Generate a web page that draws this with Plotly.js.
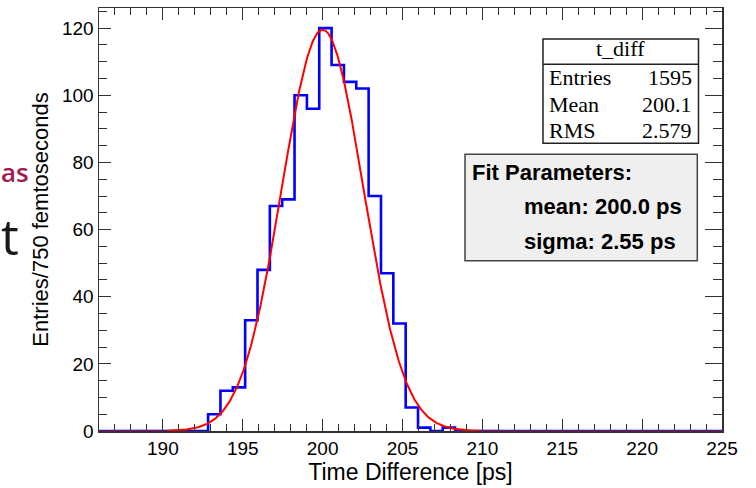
<!DOCTYPE html>
<html><head><meta charset="utf-8">
<script src="https://cdn.plot.ly/plotly-3.0.1.min.js"></script>
<style>html,body{margin:0;padding:0;background:#fff}#chart{width:756px;height:488px}</style>
</head><body><div id="chart"></div>
<script>
// ---- data ----
const histName = 't_diff';
const firstBinEdge = 192.83;          // lower edge of first non-empty bin (ps)
const binWidth = 0.773;               // bin width (ps)
const binCounts = [5,12,13,33,48,67,69,100,96,120,109,104,102,70,47,32,7,1,0,1];
const statLabels = ['Entries','Mean','RMS'];
const statValues = ['1595','200.1','2.579'];
const fitMean = 200.0;
const fitSigma = 2.55;
const fitAmplitude = 119.5;
const fitLines = ['Fit Parameters:','mean: 200.0 ps','sigma: 2.55 ps'];
const xRange = [186, 225];
const yRange = [0, 126];
const xTickVals = [190,195,200,205,210,215,220,225];
const yTickVals = [0,20,40,60,80,100,120];
const xTitle = 'Time Difference [ps]';
const yTitle = 'Entries/750 femtoseconds';
const slideFragments = ['as','t'];

// ---- histogram outline (step) ----
const hx = [xRange[0]], hy = [0];
binCounts.forEach((c,i)=>{ hx.push(firstBinEdge + i*binWidth); hy.push(c); });
hx.push(firstBinEdge + binCounts.length*binWidth); hy.push(0);
hx.push(xRange[1]); hy.push(0);

// ---- gaussian fit curve ----
function gaus(x){ return fitAmplitude*Math.exp(-0.5*Math.pow((x-fitMean)/fitSigma,2)); }
function curve(a,b){ const xs=[],ys=[]; for(let x=a;x<=b+1e-9;x+=0.05){xs.push(x);ys.push(gaus(x));} return {xs,ys}; }
const cMain = curve(190.3, 209.8);
const cL = curve(xRange[0], 190.3);
const cR = curve(209.8, xRange[1]);

const traces = [
  {x:hx, y:hy, type:'scatter', mode:'lines', line:{shape:'hv', color:'#0000ff', width:2.6}, hoverinfo:'skip', showlegend:false},
  {x:cL.xs, y:cL.ys, type:'scatter', mode:'lines', line:{color:'rgba(255,0,0,0.5)', width:2}, hoverinfo:'skip', showlegend:false},
  {x:cR.xs, y:cR.ys, type:'scatter', mode:'lines', line:{color:'rgba(255,0,0,0.5)', width:2}, hoverinfo:'skip', showlegend:false},
  {x:cMain.xs, y:cMain.ys, type:'scatter', mode:'lines', line:{color:'#ff0000', width:2}, hoverinfo:'skip', showlegend:false},
  {x:[], y:[], yaxis:'y2', type:'scatter', mode:'lines', hoverinfo:'skip', showlegend:false}
];

// pixel -> paper helpers (plot area: x 99..722, y 8..431)
const L=99, R=722, T=8, B=431;
const px = v => (v-L)/(R-L);
const py = v => (B-v)/(B-T);

const serif = {family:'Liberation Serif, Times New Roman, serif', size:22, color:'#000'};

const annotations = [];
annotations.push({xref:'paper',yref:'paper',x:px(620.5),y:py(48.6),xanchor:'center',yanchor:'middle',text:histName,showarrow:false,font:serif,borderpad:0,borderwidth:0});
const rowY=[77.6,104.3,130.3];
statLabels.forEach((s,i)=>{
  annotations.push({xref:'paper',yref:'paper',x:px(549),y:py(rowY[i]),xanchor:'left',yanchor:'middle',text:s,showarrow:false,font:serif,borderpad:0,borderwidth:0});
  annotations.push({xref:'paper',yref:'paper',x:px(691.5),y:py(rowY[i]),xanchor:'right',yanchor:'middle',text:statValues[i],showarrow:false,font:serif,borderpad:0,borderwidth:0});
});
const fitY=[172,206.7,241], fitX=[471.7,524,524];
fitLines.forEach((s,i)=>{
  annotations.push({xref:'paper',yref:'paper',x:px(fitX[i]),y:py(fitY[i]),xanchor:'left',yanchor:'middle',text:'<b>'+s+'</b>',showarrow:false,font:{family:'Liberation Sans, Arial, sans-serif',size:22,color:'#000'},borderpad:0,borderwidth:0});
});
annotations.push({xref:'paper',yref:'paper',x:px(0.5),y:py(172),xanchor:'left',yanchor:'middle',text:slideFragments[0],showarrow:false,font:{family:'Open Sans, sans-serif',size:26,color:'#a31a4c',weight:600},borderpad:0,borderwidth:0});
annotations.push({xref:'paper',yref:'paper',x:px(0.5),y:py(236),xanchor:'left',yanchor:'middle',text:slideFragments[1],showarrow:false,font:{family:'Open Sans, sans-serif',size:50,color:'#1a1a1a'},borderpad:0,borderwidth:0});

const shapes = [
  {type:'rect',xref:'paper',yref:'paper',x0:px(543),x1:px(698.5),y0:py(143.3),y1:py(39),line:{color:'#222',width:1.5},fillcolor:'#ffffff',layer:'above'},
  {type:'line',xref:'paper',yref:'paper',x0:px(543),x1:px(698.5),y0:py(64.3),y1:py(64.3),line:{color:'#222',width:1.5},layer:'above'},
  {type:'rect',xref:'paper',yref:'paper',x0:px(465),x1:px(697.3),y0:py(260.7),y1:py(154.3),line:{color:'#444',width:1.5},fillcolor:'#efefef',layer:'above'}
];

const axisCol = '#333';
const layout = {
  width:756, height:488,
  margin:{l:L, r:756-R, t:T, b:488-B},
  paper_bgcolor:'#fff', plot_bgcolor:'#fff',
  showlegend:false,
  font:{family:'Liberation Sans, Arial, sans-serif', color:'#000'},
  xaxis:{range:xRange, autorange:false, tickmode:'array', tickvals:xTickVals, ticks:'inside', ticklen:12, tickwidth:1, tickcolor:axisCol,
         minor:{dtick:1, tick0:0, ticks:'inside', ticklen:7, tickwidth:1, tickcolor:axisCol},
         showline:true, linecolor:axisCol, linewidth:1.5, mirror:'ticks', showgrid:false, zeroline:false,
         tickfont:{size:19, color:'#000'},
         title:{text:xTitle, font:{size:23, color:'#000'}, standoff:2}},
  yaxis:{range:yRange, autorange:false, tickmode:'array', tickvals:yTickVals, ticks:'inside', ticklen:12, tickwidth:1, tickcolor:axisCol,
         minor:{dtick:5, tick0:0, ticks:'inside', ticklen:8, tickwidth:1, tickcolor:axisCol},
         showline:true, linecolor:axisCol, linewidth:1.5, mirror:false, showgrid:false, zeroline:false,
         tickfont:{size:19, color:'#000'},
         title:{text:yTitle, font:{size:22, color:'#000'}, standoff:7}},
  yaxis2:{range:yRange, autorange:false, overlaying:'y', side:'right', tickmode:'array', tickvals:yTickVals, ticks:'inside', ticklen:17, tickwidth:1, tickcolor:axisCol,
          minor:{dtick:5, tick0:0, ticks:'inside', ticklen:9, tickwidth:1, tickcolor:axisCol},
          showline:true, linecolor:axisCol, linewidth:1.5, showgrid:false, zeroline:false, showticklabels:false},
  annotations, shapes
};
Plotly.newPlot('chart', traces, layout, {staticPlot:true, displayModeBar:false});
</script></body></html>
